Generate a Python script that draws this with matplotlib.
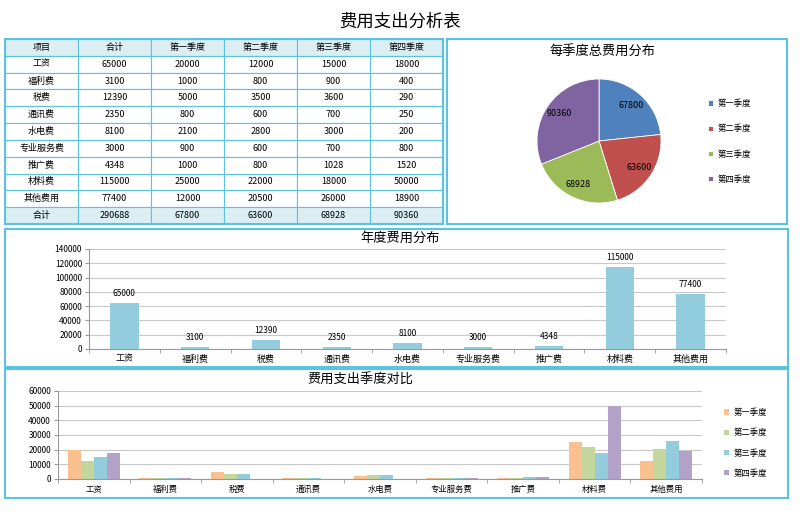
import numpy as np
import matplotlib.pyplot as plt
from matplotlib.patches import Rectangle

plt.rcParams['font.family'] = ['Noto Sans CJK SC', 'DejaVu Sans']

# ================================
# Dados
# ================================
items = ['工资', '福利费', '税费', '通讯费', '水电费', '专业服务费', '推广费', '材料费', '其他费用']
quarters = ['第一季度', '第二季度', '第三季度', '第四季度']
q1 = [20000, 1000, 5000, 800, 2100, 900, 1000, 25000, 12000]
q2 = [12000, 800, 3500, 600, 2800, 600, 800, 22000, 20500]
q3 = [15000, 900, 3600, 700, 3000, 700, 1028, 18000, 26000]
q4 = [18000, 400, 290, 250, 200, 800, 1520, 50000, 18900]
row_totals = [65000, 3100, 12390, 2350, 8100, 3000, 4348, 115000, 77400]
quarter_totals = [67800, 63600, 68928, 90360]
grand_total = 290688

W, H = 800, 513
border = '#5bc3df'
bar_blue = '#93cddd'
pie_colors = ['#4f81bd', '#c0504d', '#9bbb59', '#8064a2']
q_colors = ['#fac090', '#c3d69b', '#93cddd', '#b3a2c7']
grid_c = '#c8c8c8'


def px(x0, y0, x1, y1):
    # caixa em pixels -> coordenadas da figura
    return [x0 / W, 1 - y1 / H, (x1 - x0) / W, (y1 - y0) / H]


fig = plt.figure(figsize=(W / 100, H / 100), dpi=100)

# camada de fundo para as molduras
bg = fig.add_axes([0, 0, 1, 1], zorder=-1)
bg.set_xlim(0, W)
bg.set_ylim(H, 0)
bg.axis('off')
for (x0, y0, x1, y1) in [(447, 39, 787, 224), (5, 229, 788, 367), (5, 369, 788, 498)]:
    bg.add_patch(Rectangle((x0, y0), x1 - x0, y1 - y0, fill=False, ec=border, lw=1.5))

fig.text(0.5, 1 - 22 / H, '费用支出分析表', ha='center', va='center', fontsize=12.5)

# ================================
# Tabela
# ================================
axt = fig.add_axes(px(5, 39, 443, 224))
axt.axis('off')
cell_text = [['项目', '合计'] + quarters]
for i, name in enumerate(items):
    cell_text.append([name, str(row_totals[i]), str(q1[i]), str(q2[i]), str(q3[i]), str(q4[i])])
cell_text.append(['合计', str(grand_total)] + [str(v) for v in quarter_totals])
table = axt.table(cellText=cell_text, cellLoc='center', bbox=[0, 0, 1, 1])
table.auto_set_font_size(False)
table.set_fontsize(6.5)
for (r, c), cell in table.get_celld().items():
    cell.set_edgecolor(border)
    cell.set_linewidth(0.8)
    cell.PAD = 0.02
    if r == 0 or r == len(cell_text) - 1:
        cell.set_facecolor('#daeef3')
axt.add_patch(Rectangle((0, 0), 1, 1, transform=axt.transAxes, fill=False,
                        ec=border, lw=1.5, clip_on=False))

# ================================
# Pizza
# ================================
fig.text(603 / W, 1 - 51 / H, '每季度总费用分布', ha='center', va='center', fontsize=9.5)
axp = fig.add_axes(px(537, 79, 661, 203))
wedges, _ = axp.pie(quarter_totals, colors=pie_colors, startangle=90, counterclock=False,
                    wedgeprops=dict(edgecolor='white', linewidth=0.6))
axp.set_xlim(-1, 1)
axp.set_ylim(-1, 1)
for w, v in zip(wedges, quarter_totals):
    ang = np.deg2rad((w.theta1 + w.theta2) / 2)
    axp.text(0.78 * np.cos(ang), 0.78 * np.sin(ang), str(v), ha='center', va='center', fontsize=6.5)
fig.legend(wedges, quarters, loc='upper left', bbox_to_anchor=(708 / W, 1 - 99 / H),
           frameon=False, fontsize=6, handlelength=0.6, handleheight=0.6,
           handletextpad=0.6, labelspacing=1.95, borderpad=0, borderaxespad=0)


def style_axis(ax, n, top):
    ax.set_xlim(-0.5, n - 0.5)
    ax.set_ylim(0, top)
    ax.yaxis.grid(True, color=grid_c, lw=0.8)
    ax.set_axisbelow(True)
    for s in ['top', 'right']:
        ax.spines[s].set_visible(False)
    ax.spines['left'].set_color('#999999')
    ax.spines['bottom'].set_color('#999999')
    ax.set_xticks(np.arange(n))
    ax.set_xticks(np.arange(n + 1) - 0.5, minor=True)
    ax.tick_params(axis='x', which='major', length=0, pad=4)
    ax.tick_params(axis='x', which='minor', length=3, color='#999999')
    ax.tick_params(axis='y', length=3, color='#999999', labelsize=6, pad=2)


# ================================
# Distribuição anual
# ================================
x = np.arange(len(items))
fig.text(400 / W, 1 - 238 / H, '年度费用分布', ha='center', va='center', fontsize=9.5)
ax2 = fig.add_axes(px(89, 249, 726, 349))
bars = ax2.bar(x, row_totals, width=0.4, color=bar_blue)
style_axis(ax2, len(items), 140000)
ax2.set_yticks(np.arange(0, 140001, 20000))
ax2.set_xticklabels(items, fontsize=6.5)
for b, v in zip(bars, row_totals):
    ax2.annotate(str(v), (b.get_x() + b.get_width() / 2, v), xytext=(0, 3.5),
                 textcoords='offset points', ha='center', va='bottom', fontsize=6)

# ================================
# Comparação trimestral
# ================================
fig.text(360 / W, 1 - 380 / H, '费用支出季度对比', ha='center', va='center', fontsize=9.5)
ax3 = fig.add_axes(px(58, 391, 702, 479))
bw = 0.182
for k, (vals, col) in enumerate(zip([q1, q2, q3, q4], q_colors)):
    ax3.bar(x + (k - 1.5) * bw, vals, width=bw, color=col, label=quarters[k])
style_axis(ax3, len(items), 60000)
ax3.set_yticks(np.arange(0, 60001, 10000))
ax3.set_xticklabels(items, fontsize=6)
fig.legend(*ax3.get_legend_handles_labels(), loc='upper left',
           bbox_to_anchor=(724 / W, 1 - 408 / H), frameon=False, fontsize=6,
           handlelength=0.6, handleheight=0.6, handletextpad=0.6, labelspacing=1.35,
           borderpad=0, borderaxespad=0)

plt.savefig('out.png', dpi=100)
